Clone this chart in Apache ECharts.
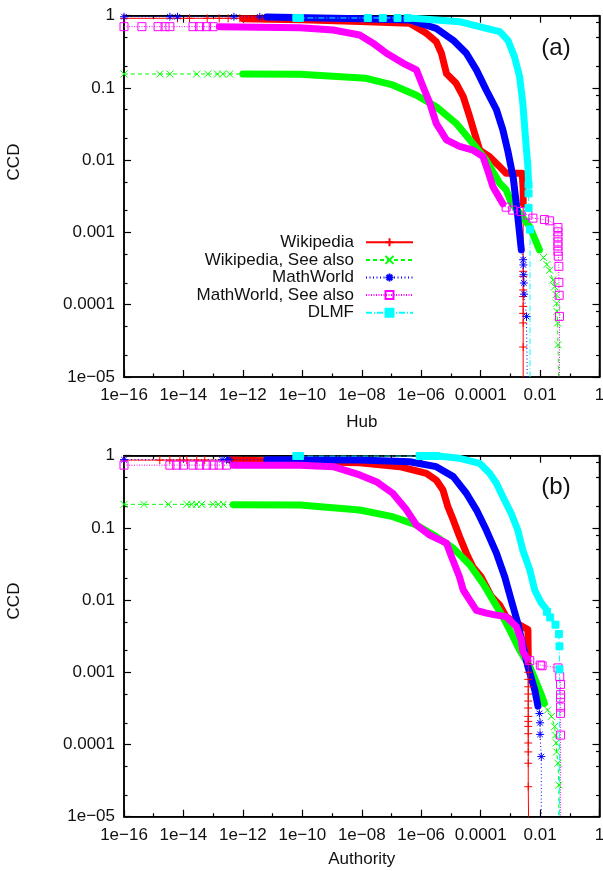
<!DOCTYPE html>
<html>
<head>
<meta charset="utf-8">
<script src="https://cdn.jsdelivr.net/npm/echarts@6/dist/echarts.min.js"></script>
<style>
html, body { margin: 0; padding: 0; background: #fff; }
#chart { width: 603px; height: 871px; }
</style>
</head>
<body>
<div id="chart"></div>
<script>
// ---------- tick values and labels ----------
const xTickValues = [1e-16, 1e-14, 1e-12, 1e-10, 1e-8, 1e-6, 1e-4, 1e-2, 1];
const xTickLabels = ['1e\u221216', '1e\u221214', '1e\u221212', '1e\u221210', '1e\u221208', '1e\u221206', '0.0001', '0.01', '1'];
const xMinorValues = [1e-15, 1e-13, 1e-11, 1e-9, 1e-7, 1e-5, 1e-3, 1e-1];
const yTickValues = [1e-5, 1e-4, 1e-3, 1e-2, 1e-1, 1];
const yTickLabels = ['1e\u221205', '0.0001', '0.001', '0.01', '0.1', '1'];
const yMinorValues = [2e-5, 5e-5, 2e-4, 5e-4, 2e-3, 5e-3, 2e-2, 5e-2, 0.2, 0.5];
const yRightExtraValues = [8e-5, 8e-4, 8e-3, 8e-2, 0.8];

const seriesNames = ['Wikipedia', 'Wikipedia, See also', 'MathWorld', 'MathWorld, See also', 'DLMF'];

// ---------- Hub scores: complementary cumulative distribution ----------
// head = sparse low-score points, body = dense run of points, tail = sparse high-score points
const hubWikiHead = [[1e-16,0.92],[6.3e-15,0.92],[1.6e-14,0.92],[6.3e-14,0.92],[1.6e-13,0.92],[3.2e-13,0.92],[7.9e-13,0.92]];
const hubWikiBody = [[1e-12,0.91],[1e-10,0.88],[8.5e-9,0.83],[4.1e-7,0.785],[1.5e-6,0.57],[3.2e-6,0.437],[4.8e-6,0.302],[7.1e-6,0.158],[1.5e-5,0.116],[2.6e-5,0.0759],[4.3e-5,0.0398],[6.3e-5,0.0234],[9.3e-5,0.0138],[2.0e-4,0.0112],[4.4e-4,0.0081],[7.2e-4,0.0066],[2.5e-3,0.0066],[2.7e-3,0.004],[2.7e-3,0.0025]];
const hubWikiTail = [[2.7e-3,2.9e-4],[2.7e-3,2.45e-4],[2.7e-3,1.6e-4],[2.7e-3,1.3e-4],[2.7e-3,9.5e-5],[2.7e-3,7.6e-5],[2.7e-3,5.6e-5],[2.7e-3,2.6e-5],[2.7e-3,1e-5]];

const hubWikiSeeHead = [[1e-16,0.156],[1.6e-15,0.156],[3.5e-15,0.156],[2.8e-14,0.156],[6.6e-14,0.156],[1.4e-13,0.156],[2.1e-13,0.156],[3.6e-13,0.156]];
const hubWikiSeeBody = [[1e-12,0.156],[8.3e-11,0.155],[1.4e-8,0.136],[1.1e-7,0.110],[6.9e-7,0.0794],[3.2e-6,0.055],[1.5e-5,0.0324],[5.5e-5,0.017],[1.55e-4,0.01],[4.4e-4,0.0048],[7.2e-4,0.0039],[1.07e-3,0.0026],[2.04e-3,0.00186],[4.5e-3,0.0012],[9.5e-3,5.75e-4]];
const hubWikiSeeTail = [[1.3e-2,4.5e-4],[1.7e-2,3.6e-4],[2.1e-2,3.0e-4],[2.7e-2,2.2e-4],[3.1e-2,1.78e-4],[3.5e-2,1.38e-4],[3.6e-2,1.05e-4],[3.7e-2,8.1e-5],[3.9e-2,5.6e-5],[4.0e-2,2.8e-5],[4.2e-2,1e-5]];

const hubMathHead = [[1e-16,0.968],[3.5e-15,0.968],[6.3e-15,0.968],[5e-13,0.966],[3.7e-12,0.962]];
const hubMathBody = [[6.3e-12,0.96],[1e-8,0.91],[4.1e-7,0.871],[3.2e-6,0.668],[1.2e-5,0.457],[3.3e-5,0.302],[7.2e-5,0.178],[1.55e-4,0.0933],[3.4e-4,0.0501],[5.6e-4,0.0263],[8.3e-4,0.0132],[1.26e-3,0.0056],[1.78e-3,0.00166],[2.34e-3,5.75e-4]];
const hubMathTail = [[2.7e-3,4.2e-4],[2.75e-3,3.55e-4],[2.8e-3,2.6e-4],[2.85e-3,2.0e-4],[2.9e-3,1.4e-4],[3.5e-3,6.9e-5],[3.7e-3,1e-5]];

const hubMathSeeHead = [[1e-16,0.705],[4e-16,0.705],[1.4e-15,0.705],[2.4e-15,0.705],[3.5e-15,0.705],[2.1e-14,0.705],[3.5e-14,0.705],[6e-14,0.705],[1e-13,0.705]];
const hubMathSeeBody = [[1.6e-13,0.705],[8.3e-11,0.68],[1.1e-9,0.634],[8.5e-9,0.541],[2.4e-8,0.417],[6.8e-8,0.302],[2.5e-7,0.219],[6.9e-7,0.178],[1.15e-6,0.105],[1.95e-6,0.0617],[3.2e-6,0.0324],[7.1e-6,0.0191],[1.95e-5,0.0155],[5.5e-5,0.0138],[1.2e-4,0.0112],[1.7e-4,0.0074],[2.6e-4,0.0043],[5.6e-4,0.0025]];
const hubMathSeeTail = [[7.2e-4,0.00224],[1.2e-3,0.00204],[2.34e-3,0.00195],[3.9e-3,0.00174],[5.75e-3,0.00158],[1.4e-2,0.00151],[2.1e-2,0.00145],[4.0e-2,0.00117],[4.0e-2,0.00102],[4.0e-2,8.7e-4],[4.0e-2,7.4e-4],[4.0e-2,6.5e-4],[4.0e-2,5.5e-4],[4.1e-2,4.7e-4],[4.3e-2,3.4e-4],[4.3e-2,2.04e-4],[4.4e-2,1.35e-4],[4.5e-2,6.9e-5],[4.5e-2,1e-5]];

const hubDlmfHead = [[6.3e-11,0.93],[8.3e-11,0.93],[1.6e-8,0.93],[5.1e-8,0.93],[1.6e-7,0.93],[3.5e-7,0.93]];
const hubDlmfBody = [[5.2e-7,0.92],[1.95e-5,0.826],[1.55e-4,0.668],[4.4e-4,0.603],[8.3e-4,0.457],[1.38e-3,0.269],[2.04e-3,0.145],[2.63e-3,0.0617],[3.2e-3,0.0214],[3.9e-3,0.0081],[4.1e-3,0.0048]];
const hubDlmfTail = [[4.1e-3,0.00457],[4.1e-3,0.00347],[4.1e-3,0.00219],[4.6e-3,0.0011],[4.6e-3,1e-5]];

// ---------- Authority scores ----------
const authWikiHead = [[1e-16,0.87],[1.6e-15,0.87],[3.5e-15,0.87],[7.6e-15,0.87],[1.3e-14,0.87],[2.8e-14,0.87],[5.2e-14,0.87]];
const authWikiBody = [[3.6e-13,0.87],[8.5e-9,0.80],[1.9e-7,0.705],[1.5e-6,0.57],[3.2e-6,0.46],[5.4e-6,0.335],[7.9e-6,0.197],[1.2e-5,0.129],[1.95e-5,0.0759],[3.3e-5,0.0447],[5.5e-5,0.0288],[1.05e-4,0.0209],[2.3e-4,0.0112],[4.4e-4,0.0085],[7.2e-4,0.0059],[1.58e-3,0.0048],[3.9e-3,0.0039],[4.0e-3,0.0017]];
const authWikiTail = [[4.0e-3,1.3e-3],[4.0e-3,1.0e-3],[4.0e-3,8e-4],[4.0e-3,6.3e-4],[4.0e-3,5e-4],[4.0e-3,4e-4],[4.0e-3,3.2e-4],[4.0e-3,2.45e-4],[4.0e-3,2.09e-4],[4.0e-3,1.78e-4],[4.0e-3,1.41e-4],[4.0e-3,1.05e-4],[4.0e-3,7.9e-5],[4.0e-3,5.5e-5],[4.0e-3,2.6e-5],[4.1e-3,1e-5]];

const authWikiSeeHead = [[1e-16,0.212],[4.7e-16,0.212],[3.1e-15,0.212],[1.3e-14,0.212],[1.9e-14,0.212],[2.8e-14,0.212],[4.1e-14,0.212],[1e-13,0.212],[1.5e-13,0.212],[2.2e-13,0.212]];
const authWikiSeeBody = [[4.7e-13,0.21],[8.3e-11,0.207],[8.5e-9,0.177],[1.1e-7,0.143],[6.9e-7,0.110],[3.2e-6,0.0759],[1.2e-5,0.0525],[4.3e-5,0.0309],[1.2e-4,0.017],[2.6e-4,0.01],[5.6e-4,0.0059],[1.07e-3,0.0035],[2.04e-3,0.00204],[4.5e-3,0.0012],[1.1e-2,4.9e-4],[1.4e-2,3.7e-4]];
const authWikiSeeTail = [[1.8e-2,3.0e-4],[2.4e-2,2.45e-4],[3.1e-2,1.78e-4],[3.3e-2,1.35e-4],[3.5e-2,1.05e-4],[3.6e-2,7.9e-5],[4.0e-2,5.5e-5],[4.3e-2,2.75e-5],[4.3e-2,1e-5]];

const authMathHead = [[1e-16,0.88],[2e-13,0.88],[2.8e-13,0.88],[3.6e-13,0.88]];
const authMathBody = [[6.3e-12,0.88],[8.5e-9,0.871],[4.1e-7,0.826],[3.2e-6,0.705],[1.2e-5,0.513],[3.3e-5,0.302],[7.2e-5,0.178],[1.55e-4,0.0933],[3.4e-4,0.0447],[6.5e-4,0.0209],[1.07e-3,0.01],[1.78e-3,0.0048],[2.3e-3,0.0030],[3.9e-3,0.0012],[6.6e-3,5.75e-4],[8.5e-3,3.4e-4]];
const authMathTail = [[9.5e-3,2.69e-4],[1.0e-2,2.0e-4],[1.0e-2,1.38e-4],[1.1e-2,6.8e-5],[1.1e-2,1e-5]];

const authMathSeeHead = [[1e-16,0.74],[3.5e-15,0.74],[5.9e-15,0.74],[1e-14,0.74],[2.1e-14,0.74],[3.5e-14,0.74],[6e-14,0.74],[1e-13,0.74],[1.6e-13,0.74],[2.8e-13,0.74]];
const authMathSeeBody = [[4.7e-13,0.74],[8.3e-11,0.735],[1.1e-9,0.705],[8.5e-9,0.541],[3.1e-8,0.437],[1.1e-7,0.302],[3.2e-7,0.178],[6.9e-7,0.110],[1.95e-6,0.0794],[7.1e-6,0.0617],[1.05e-5,0.0398],[1.95e-5,0.0209],[2.6e-5,0.0138],[4.3e-5,0.01],[7.2e-5,0.0072],[1.55e-4,0.0066],[3.4e-4,0.0062],[7.2e-4,0.0059],[1.2e-3,0.0048],[1.58e-3,0.0043],[2.34e-3,0.0028],[2.63e-3,0.00195],[3.9e-3,0.00148]];
const authMathSeeTail = [[4.5e-3,0.00145],[1.02e-2,0.00126],[1.17e-2,0.00123],[4.0e-2,0.00115],[4.6e-2,8.7e-4],[4.9e-2,6.8e-4],[4.9e-2,4.9e-4],[4.9e-2,4.4e-4],[4.9e-2,3.3e-4],[4.9e-2,2.7e-4],[4.9e-2,1.35e-4],[4.9e-2,1e-5]];

const authDlmfHead = [[6.3e-11,0.99],[8.3e-11,0.99],[8.9e-7,0.99],[1.5e-6,0.99],[2.2e-6,0.99],[3.2e-6,0.99]];
const authDlmfBody = [[4.2e-6,0.98],[1.95e-5,0.92],[9.3e-5,0.785],[2.0e-4,0.57],[3.4e-4,0.415],[5.6e-4,0.27],[1.07e-3,0.158],[1.78e-3,0.0933],[2.63e-3,0.049],[4.5e-3,0.0263],[6.6e-3,0.0138],[1.1e-2,0.0091],[1.5e-2,0.0078]];
const authDlmfTail = [[1.7e-2,0.0069],[2.2e-2,0.00575],[3.3e-2,0.00457],[4.3e-2,0.00339],[4.5e-2,0.00229],[4.5e-2,0.0011],[4.5e-2,1e-5]];

// ---------- styling ----------
const FONT = "'Liberation Sans', Arial, Helvetica, sans-serif";
const TEXT = '#111';
const Y_FLOOR = 1e-5;

const SYM_PLUS = 'path://M0,5L10,5M5,0L5,10';
const SYM_CROSS = 'path://M0,0L10,10M10,0L0,10';
const SYM_STAR = 'path://M0,5L10,5M5,0L5,10M1.5,1.5L8.5,8.5M8.5,1.5L1.5,8.5';
const SYM_OPEN_SQ = 'path://M0,0L10,0L10,10L0,10Z';

const styles = [
  { color: '#ff0000', dash: 'solid', symbol: SYM_PLUS, size: 8, fill: '#ff0000' },
  { color: '#00ff00', dash: [4, 3], symbol: SYM_CROSS, size: 7, fill: '#00ff00' },
  { color: '#0000ff', dash: [1, 2.5], symbol: SYM_STAR, size: 8, fill: '#0000ff' },
  { color: '#ff00ff', dash: [1, 1.5], symbol: SYM_OPEN_SQ, size: 8, fill: 'rgba(0,0,0,0)' },
  { color: '#00ffff', dash: [6, 2, 1, 2], symbol: 'rect', size: 7, fill: '#00ffff' }
];

const panels = [
  [[hubWikiHead, hubWikiBody, hubWikiTail], [hubWikiSeeHead, hubWikiSeeBody, hubWikiSeeTail],
   [hubMathHead, hubMathBody, hubMathTail], [hubMathSeeHead, hubMathSeeBody, hubMathSeeTail],
   [hubDlmfHead, hubDlmfBody, hubDlmfTail]],
  [[authWikiHead, authWikiBody, authWikiTail], [authWikiSeeHead, authWikiSeeBody, authWikiSeeTail],
   [authMathHead, authMathBody, authMathTail], [authMathSeeHead, authMathSeeBody, authMathSeeTail],
   [authDlmfHead, authDlmfBody, authDlmfTail]]
];

function labelFor(values, labels, v) {
  const lv = Math.log10(v);
  const i = values.findIndex(t => Math.abs(Math.log10(t) - lv) < 1e-6);
  return i >= 0 ? labels[i] : '';
}

const axisLineStyle = { color: '#000', width: 1.5 };
const tickLineStyle = { color: '#000', width: 1.2 };
const MAJOR = 7, MINOR = 3.5;

function makeXAxes(gridIndex, name, nameGap) {
  const base = { type: 'log', logBase: 10, min: 1e-16, max: 1, gridIndex: gridIndex, splitLine: { show: false } };
  return [
    Object.assign({}, base, {
      position: 'bottom', name: name, nameLocation: 'middle', nameGap: nameGap,
      nameTextStyle: { fontFamily: FONT, fontSize: 17, color: TEXT },
      axisLine: { show: true, lineStyle: axisLineStyle },
      axisTick: { show: true, inside: true, length: MAJOR, customValues: xTickValues, lineStyle: tickLineStyle },
      axisLabel: { show: true, customValues: xTickValues, margin: 10, fontFamily: FONT, fontSize: 17, color: TEXT,
        formatter: v => labelFor(xTickValues, xTickLabels, v) }
    }),
    Object.assign({}, base, {
      position: 'bottom', axisLine: { show: false },
      axisTick: { show: true, inside: true, length: MINOR, customValues: xMinorValues, lineStyle: tickLineStyle },
      axisLabel: { show: false }
    }),
    Object.assign({}, base, {
      position: 'top', axisLine: { show: true, lineStyle: axisLineStyle },
      axisTick: { show: true, inside: true, length: MAJOR, customValues: xTickValues, lineStyle: tickLineStyle },
      axisLabel: { show: false }
    }),
    Object.assign({}, base, {
      position: 'top', axisLine: { show: false },
      axisTick: { show: true, inside: true, length: MINOR, customValues: xMinorValues, lineStyle: tickLineStyle },
      axisLabel: { show: false }
    })
  ];
}

function makeYAxes(gridIndex) {
  const base = { type: 'log', logBase: 10, min: 1e-5, max: 1, gridIndex: gridIndex, splitLine: { show: false } };
  return [
    Object.assign({}, base, {
      position: 'left', axisLine: { show: true, lineStyle: axisLineStyle },
      axisTick: { show: true, inside: true, length: MAJOR, customValues: yTickValues, lineStyle: tickLineStyle },
      axisLabel: { show: true, customValues: yTickValues, margin: 9, fontFamily: FONT, fontSize: 17, color: TEXT,
        formatter: v => labelFor(yTickValues, yTickLabels, v) }
    }),
    Object.assign({}, base, {
      position: 'left', axisLine: { show: false },
      axisTick: { show: true, inside: true, length: MINOR, customValues: yMinorValues, lineStyle: tickLineStyle },
      axisLabel: { show: false }
    }),
    Object.assign({}, base, {
      position: 'right', axisLine: { show: true, lineStyle: axisLineStyle },
      axisTick: { show: true, inside: true, length: MAJOR, customValues: yTickValues, lineStyle: tickLineStyle },
      axisLabel: { show: false }
    }),
    Object.assign({}, base, {
      position: 'right', axisLine: { show: false },
      axisTick: { show: true, inside: true, length: MINOR, customValues: yMinorValues.concat(yRightExtraValues), lineStyle: tickLineStyle },
      axisLabel: { show: false }
    })
  ];
}

function makeSeries(panelIndex) {
  const out = [];
  const axisIndex = panelIndex * 4;
  panels[panelIndex].forEach(function (parts, k) {
    const st = styles[k];
    const head = parts[0], body = parts[1], tail = parts[2];
    // dense run of points, drawn as a solid band
    out.push({
      type: 'line', xAxisIndex: axisIndex, yAxisIndex: axisIndex, silent: true,
      data: body, symbol: 'none', animation: false,
      lineStyle: { color: st.color, width: 7, cap: 'round', join: 'round' }
    });
    // full curve with its individual markers
    const data = []
      .concat(head.map(p => ({ value: p })))
      .concat(body.map(p => ({ value: p, symbol: 'none' })))
      .concat(tail.map(p => (p[1] <= Y_FLOOR ? { value: p, symbol: 'none' } : { value: p })));
    out.push({
      type: 'line', name: seriesNames[k], xAxisIndex: axisIndex, yAxisIndex: axisIndex, silent: true,
      data: data, symbol: st.symbol, symbolSize: st.size, showAllSymbol: true, animation: false,
      lineStyle: { color: st.color, width: 1, type: st.dash },
      itemStyle: { color: st.fill, borderColor: st.color, borderWidth: 1 }
    });
  });
  return out;
}

const chart = echarts.init(document.getElementById('chart'), null, { renderer: 'canvas' });

chart.setOption({
  backgroundColor: '#fff',
  animation: false,
  grid: [
    { left: 124, right: 3.5, top: 15.7, height: 361.3, show: true, borderColor: '#000', borderWidth: 1.5, outerBoundsMode: 'none', containLabel: false },
    { left: 124, right: 3.5, top: 455.7, height: 361, show: true, borderColor: '#000', borderWidth: 1.5, outerBoundsMode: 'none', containLabel: false }
  ],
  xAxis: makeXAxes(0, 'Hub', 37).concat(makeXAxes(1, 'Authority', 34)),
  yAxis: makeYAxes(0).concat(makeYAxes(1)),
  legend: {
    data: seriesNames, orient: 'vertical', align: 'right', right: 189, top: 233.5, padding: 0,
    itemWidth: 47, itemHeight: 10, itemGap: 0, selectedMode: false,
    textStyle: { fontFamily: FONT, fontSize: 17, color: TEXT, lineHeight: 17.6, padding: [0, 7, 0, 0] }
  },
  graphic: [
    { type: 'text', x: 556, y: 48, style: { text: '(a)', fontFamily: FONT, fontSize: 24, fill: TEXT, align: 'center', verticalAlign: 'middle' } },
    { type: 'text', x: 556, y: 487, style: { text: '(b)', fontFamily: FONT, fontSize: 24, fill: TEXT, align: 'center', verticalAlign: 'middle' } },
    { type: 'text', x: 14, y: 162, rotation: Math.PI / 2, style: { text: 'CCD', fontFamily: FONT, fontSize: 17, fill: TEXT, align: 'center', verticalAlign: 'middle' } },
    { type: 'text', x: 14, y: 601, rotation: Math.PI / 2, style: { text: 'CCD', fontFamily: FONT, fontSize: 17, fill: TEXT, align: 'center', verticalAlign: 'middle' } }
  ],
  series: makeSeries(0).concat(makeSeries(1))
});
</script>
</body>
</html>
